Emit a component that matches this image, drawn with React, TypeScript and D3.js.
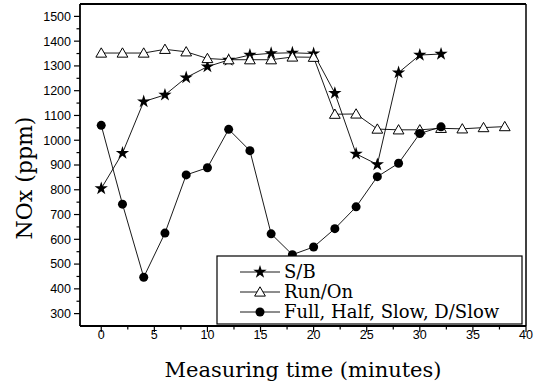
import React, { useEffect, useRef } from "react";
import * as d3 from "d3";

const minutesSB = [0, 2, 4, 6, 8, 10, 12, 14, 16, 18, 20, 22, 24, 26, 28, 30, 32];
const noxSB = [805, 948, 1156, 1183, 1253, 1297, 1324, 1344, 1351, 1353, 1350, 1190, 945, 902, 1273, 1344, 1348];

const minutesRun = [0, 2, 4, 6, 8, 10, 12, 14, 16, 18, 20, 22, 24, 26, 28, 30, 32, 34, 36, 38];
const noxRun = [1352, 1352, 1352, 1367, 1357, 1330, 1325, 1325, 1325, 1336, 1335, 1105, 1106, 1045, 1042, 1042, 1048, 1046, 1051, 1055];

const minutesFull = [0, 2, 4, 6, 8, 10, 12, 14, 16, 18, 20, 22, 24, 26, 28, 30, 32];
const noxFull = [1060, 742, 447, 625, 860, 889, 1044, 958, 622, 538, 569, 643, 731, 853, 907, 1027, 1054];

const xTicks = [0, 5, 10, 15, 20, 25, 30, 35, 40];
const yTicks = [300, 400, 500, 600, 700, 800, 900, 1000, 1100, 1200, 1300, 1400, 1500];
const legendLabels = ["S/B", "Run/On", "Full, Half, Slow, D/Slow"];

const App = () => {
    const ref = useRef<HTMLDivElement>(null);

    useEffect(() => {
        const W = 535;
        const H = 387;
        const left = 80, right = 526, top = 4, bottom = 326;

        const svg = d3
            .select(ref.current)
            .html("")
            .append("svg")
            .attr("width", W)
            .attr("height", H)
            .style("position", "absolute")
            .style("left", "0px")
            .style("top", "0px")
            .style("background", "#fff");

        const x = d3.scaleLinear().domain([-2, 40]).range([left, right]);
        const y = d3.scaleLinear().domain([250, 1550]).range([bottom, top]);

        const tickFont = "Liberation Sans, Arial, sans-serif";
        const serif = "DejaVu Serif, serif";

        // frame
        svg.append("line").attr("x1", left).attr("x2", right).attr("y1", top).attr("y2", top)
            .attr("stroke", "#000").attr("stroke-width", 2);
        svg.append("line").attr("x1", right).attr("x2", right).attr("y1", top).attr("y2", bottom)
            .attr("stroke", "#000").attr("stroke-width", 1.5);

        // x axis
        const xAxis = svg.append("g").attr("transform", `translate(0,${bottom})`);
        xAxis.append("line").attr("x1", left).attr("x2", right).attr("stroke", "#000").attr("stroke-width", 1.8);
        const xMinor = d3.range(2.5, 40, 5);
        xAxis.selectAll(".xmin").data(xMinor).join("line")
            .attr("x1", d => x(d)).attr("x2", d => x(d)).attr("y1", 0).attr("y2", 3.5)
            .attr("stroke", "#000").attr("stroke-width", 1.2);
        xAxis.selectAll(".xmaj").data(xTicks).join("line")
            .attr("x1", d => x(d)).attr("x2", d => x(d)).attr("y1", 0).attr("y2", 6)
            .attr("stroke", "#000").attr("stroke-width", 1.2);
        xAxis.selectAll("text").data(xTicks).join("text")
            .attr("x", d => x(d)).attr("y", 13)
            .attr("text-anchor", "middle")
            .attr("font-family", tickFont).attr("font-size", 12.5)
            .text(d => d);

        // y axis
        const yAxis = svg.append("g").attr("transform", `translate(${left},0)`);
        yAxis.append("line").attr("y1", top).attr("y2", bottom).attr("stroke", "#000").attr("stroke-width", 1.8);
        const yMinor = d3.range(350, 1500, 100);
        yAxis.selectAll(".ymin").data(yMinor).join("line")
            .attr("y1", d => y(d)).attr("y2", d => y(d)).attr("x1", 0).attr("x2", -3.5)
            .attr("stroke", "#000").attr("stroke-width", 1.2);
        yAxis.selectAll(".ymaj").data(yTicks).join("line")
            .attr("y1", d => y(d)).attr("y2", d => y(d)).attr("x1", 0).attr("x2", -6)
            .attr("stroke", "#000").attr("stroke-width", 1.2);
        yAxis.selectAll("text").data(yTicks).join("text")
            .attr("x", -9).attr("y", d => y(d) + 4.4)
            .attr("text-anchor", "end")
            .attr("font-family", tickFont).attr("font-size", 12.5)
            .text(d => d);

        // axis titles
        svg.append("text")
            .attr("transform", `translate(32,178) rotate(-90)`)
            .attr("text-anchor", "middle")
            .attr("font-family", serif).attr("font-size", 22)
            .text("NOx (ppm)");
        svg.append("text")
            .attr("x", 303).attr("y", 377)
            .attr("text-anchor", "middle")
            .attr("font-family", serif).attr("font-size", 21)
            .text("Measuring time (minutes)");

        const line = d3.line<[number, number]>().x(d => x(d[0])).y(d => y(d[1]));
        const star = d3.symbol().type(d3.symbolStar).size(55);
        const tri = d3.symbol().type(d3.symbolTriangle).size(50);

        const series = [
            { xs: minutesSB, ys: noxSB, kind: "star" },
            { xs: minutesRun, ys: noxRun, kind: "tri" },
            { xs: minutesFull, ys: noxFull, kind: "circle" },
        ];

        const drawMarker = (g, kind, cx, cy) => {
            if (kind === "circle") {
                g.append("circle").attr("cx", cx).attr("cy", cy).attr("r", 4.5).attr("fill", "#000");
            } else if (kind === "star") {
                g.append("path").attr("d", star()).attr("transform", `translate(${cx},${cy})`).attr("fill", "#000");
            } else {
                g.append("path").attr("d", tri()).attr("transform", `translate(${cx},${cy + 1})`)
                    .attr("fill", "#fff").attr("stroke", "#000").attr("stroke-width", 1);
            }
        };

        series.forEach(s => {
            const pts = s.xs.map((m, i) => [m, s.ys[i]] as [number, number]);
            svg.append("path").attr("d", line(pts)).attr("fill", "none").attr("stroke", "#000").attr("stroke-width", 0.9);
            const g = svg.append("g");
            pts.forEach(p => drawMarker(g, s.kind, x(p[0]), y(p[1])));
        });

        // legend
        const lg = svg.append("g");
        lg.append("rect").attr("x", 217).attr("y", 256).attr("width", 305).attr("height", 68)
            .attr("fill", "#fff").attr("stroke", "#000").attr("stroke-width", 1.2);
        legendLabels.forEach((label, i) => {
            const ly = 272 + i * 20;
            lg.append("line").attr("x1", 240).attr("x2", 280).attr("y1", ly).attr("y2", ly)
                .attr("stroke", "#000").attr("stroke-width", 0.9);
            drawMarker(lg, series[i].kind, 260, ly);
            lg.append("text").attr("x", 284).attr("y", ly + 6)
                .attr("font-family", serif).attr("font-size", 18)
                .text(label);
        });
    }, []);

    return <div ref={ref} />;
};

export default App;
